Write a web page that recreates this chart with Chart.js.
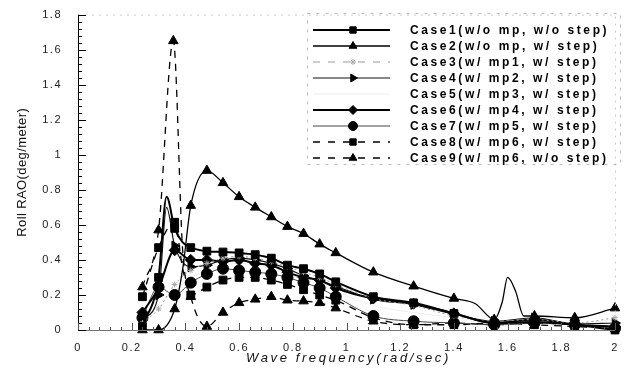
<!DOCTYPE html>
<html>
<head>
<meta charset="utf-8">
<script src="https://cdn.jsdelivr.net/npm/chart.js@4.4.1/dist/chart.umd.min.js"></script>
<style>
  html, body { margin: 0; padding: 0; background: #fff; }
  #wrap { width: 628px; height: 369px; }
</style>
</head>
<body>
<div id="wrap"><canvas id="rao-chart"></canvas></div>
<script>
// Roll RAO vs wave frequency, nine cases
const caseLabels = [
    'Case1(w/o mp, w/o step)',
    'Case2(w/o mp, w/ step)',
    'Case3(w/ mp1, w/ step)',
    'Case4(w/ mp2, w/ step)',
    'Case5(w/ mp3, w/ step)',
    'Case6(w/ mp4, w/ step)',
    'Case7(w/ mp5, w/ step)',
    'Case8(w/ mp6, w/ step)',
    'Case9(w/ mp6, w/o step)'
];

// [frequency (rad/sec), roll RAO (deg/meter)]
const case1 = [[0.24,0.02],[0.30,0.30],[0.33,0.76],[0.36,0.58],[0.39,0.50],[0.42,0.47],[0.48,0.45],[0.54,0.445],[0.60,0.44],[0.66,0.43],[0.72,0.41],[0.78,0.37],[0.84,0.35],[0.90,0.32],[0.96,0.275],[1.10,0.19],[1.25,0.155],[1.40,0.095],[1.55,0.04],[1.70,0.045],[1.85,0.03],[2.00,0.0]];
const case2 = [[0.24,0.0],[0.30,0.0],[0.36,0.12],[0.39,0.35],[0.42,0.71],[0.48,0.91],[0.54,0.84],[0.60,0.76],[0.66,0.70],[0.72,0.645],[0.78,0.59],[0.84,0.55],[0.90,0.49],[0.96,0.44],[1.10,0.33],[1.25,0.25],[1.40,0.18],[1.48,0.15],[1.55,0.06],[1.58,0.16],[1.60,0.30],[1.63,0.22],[1.66,0.08],[1.70,0.08],[1.85,0.07],[2.00,0.125]];
const case3 = [[0.24,0.04],[0.30,0.12],[0.36,0.26],[0.42,0.34],[0.48,0.38],[0.54,0.41],[0.60,0.42],[0.66,0.41],[0.72,0.39],[0.78,0.36],[0.84,0.33],[0.90,0.30],[0.96,0.26],[1.10,0.18],[1.25,0.14],[1.40,0.08],[1.55,0.05],[1.70,0.06],[1.85,0.04],[2.00,0.07]];
const case4 = [[0.24,0.06],[0.30,0.20],[0.33,0.70],[0.36,0.48],[0.42,0.36],[0.48,0.37],[0.54,0.40],[0.60,0.41],[0.66,0.40],[0.72,0.38],[0.78,0.35],[0.84,0.31],[0.90,0.28],[0.96,0.25],[1.10,0.175],[1.25,0.145],[1.40,0.09],[1.55,0.05],[1.70,0.07],[1.85,0.035],[2.00,0.04]];
const case5 = [[0.24,0.03],[0.30,0.15],[0.36,0.22],[0.42,0.30],[0.48,0.34],[0.54,0.37],[0.60,0.38],[0.66,0.37],[0.72,0.35],[0.78,0.32],[0.84,0.29],[0.90,0.26],[0.96,0.22],[1.10,0.14],[1.25,0.10],[1.40,0.07],[1.55,0.05],[1.70,0.05],[1.85,0.04],[2.00,0.06]];
const case6 = [[0.24,0.10],[0.30,0.24],[0.36,0.455],[0.42,0.40],[0.48,0.40],[0.54,0.39],[0.60,0.40],[0.66,0.38],[0.72,0.37],[0.78,0.33],[0.84,0.30],[0.90,0.285],[0.96,0.24],[1.10,0.18],[1.25,0.15],[1.40,0.095],[1.55,0.04],[1.70,0.06],[1.85,0.03],[2.00,0.02]];
const case7 = [[0.24,0.07],[0.30,0.245],[0.36,0.20],[0.42,0.27],[0.48,0.32],[0.54,0.35],[0.60,0.34],[0.66,0.33],[0.72,0.32],[0.78,0.30],[0.84,0.27],[0.90,0.24],[0.96,0.19],[1.10,0.08],[1.25,0.05],[1.40,0.04],[1.55,0.03],[1.70,0.04],[1.85,0.03],[2.00,0.01]];
const case8 = [[0.24,0.19],[0.30,0.47],[0.36,0.615],[0.39,0.35],[0.42,0.20],[0.48,0.245],[0.54,0.285],[0.60,0.30],[0.66,0.30],[0.72,0.285],[0.78,0.26],[0.84,0.23],[0.90,0.20],[0.96,0.17],[1.10,0.07],[1.25,0.03],[1.40,0.03],[1.55,0.04],[1.70,0.03],[1.85,0.02],[2.00,0.01]];
const case9 = [[0.24,0.245],[0.30,0.57],[0.355,1.65],[0.39,0.45],[0.42,0.19],[0.48,0.02],[0.54,0.10],[0.60,0.155],[0.66,0.175],[0.72,0.19],[0.78,0.17],[0.84,0.165],[0.90,0.155],[0.96,0.125],[1.10,0.05],[1.25,0.03],[1.40,0.04],[1.55,0.03],[1.70,0.04],[1.85,0.03],[2.00,0.02]];

// curve-shaping points that carry no symbol
const unmarkedFreqs = [0.33, 0.39, 1.48, 1.58, 1.60, 1.63, 1.66];

const xTicks = [0, 0.2, 0.4, 0.6, 0.8, 1, 1.2, 1.4, 1.6, 1.8, 2];
const yTicks = [0, 0.2, 0.4, 0.6, 0.8, 1, 1.2, 1.4, 1.6, 1.8];

const FONT = '"Liberation Sans", Arial, sans-serif';

const styles = [
    { color: '#000', width: 2,   dash: [],     point: 'rect',     rot: 0 },
    { color: '#000', width: 1.3, dash: [],     point: 'triangle', rot: 0 },
    { color: '#999', width: 1,   dash: [2, 3], point: 'star',     rot: 0, pointColor: '#aaa', radius: 3 },
    { color: '#111', width: 1.2, dash: [],     point: 'triangle', rot: 90 },
    { color: 'rgba(0,0,0,0.07)', width: 1, dash: [], point: false, rot: 0 },
    { color: '#000', width: 2,   dash: [],     point: 'rectRot',  rot: 0 },
    { color: '#444', width: 1,   dash: [],     point: 'circle',   rot: 0 },
    { color: '#000', width: 1.3, dash: [7, 6], point: 'rect',     rot: 0 },
    { color: '#000', width: 1.3, dash: [7, 6], point: 'triangle', rot: 0 }
];

const series = [case1, case2, case3, case4, case5, case6, case7, case8, case9];

const datasets = series.map((pts, i) => {
    const s = styles[i];
    return {
        label: caseLabels[i],
        data: pts.map(p => ({ x: p[0], y: p[1] })),
        borderColor: s.color,
        borderWidth: s.width,
        borderDash: s.dash,
        cubicInterpolationMode: 'monotone',
        pointStyle: s.point,
        pointRotation: s.rot,
        pointBackgroundColor: s.pointColor || '#000',
        pointBorderColor: s.pointColor || '#000',
        pointBorderWidth: 1,
        pointRadius: ctx => (!s.point || unmarkedFreqs.includes(ctx.raw.x)) ? 0 : (s.radius || 5.5),
        pointHoverRadius: 0,
        clip: 8
    };
});

function fmtTick(v) {
    const r = Math.round(v * 10) / 10;
    return Number.isInteger(r) ? String(r) : r.toFixed(1);
}

// frame, inward ticks, axis titles and the boxed legend
const framePlugin = {
    id: 'framePlugin',
    beforeDraw(chart) {
        chart.ctx.letterSpacing = '1.5px';
    },
    afterDraw(chart) {
        const ctx = chart.ctx;
        const { left, right, top, bottom } = chart.chartArea;
        const xs = chart.scales.x, ys = chart.scales.y;
        ctx.save();
        ctx.letterSpacing = '0px';

        // frame
        ctx.strokeStyle = '#000';
        ctx.lineWidth = 1;
        ctx.beginPath();
        ctx.moveTo(left + 0.5, top);
        ctx.lineTo(left + 0.5, bottom);
        ctx.stroke();
        ctx.strokeStyle = '#777';
        ctx.beginPath();
        ctx.moveTo(left, bottom + 0.5);
        ctx.lineTo(right, bottom + 0.5);
        ctx.stroke();
        ctx.strokeStyle = '#ccc';
        ctx.setLineDash([2, 5]);
        ctx.beginPath();
        ctx.moveTo(left, top + 0.5);
        ctx.lineTo(right + 0.5, top + 0.5);
        ctx.lineTo(right + 0.5, bottom);
        ctx.stroke();
        ctx.setLineDash([]);

        // inward ticks
        ctx.strokeStyle = '#000';
        for (let i = 0; i <= 45; i++) {
            const y = Math.round(ys.getPixelForValue(i * 0.04)) + 0.5;
            const len = i % 5 === 0 ? 8 : 4;
            ctx.beginPath();
            ctx.moveTo(left, y);
            ctx.lineTo(left + len, y);
            ctx.stroke();
        }
        ctx.strokeStyle = '#555';
        for (let i = 0; i <= 50; i++) {
            const x = Math.round(xs.getPixelForValue(i * 0.04)) + 0.5;
            const len = i % 5 === 0 ? 7 : 3;
            ctx.beginPath();
            ctx.moveTo(x, bottom);
            ctx.lineTo(x, bottom - len);
            ctx.stroke();
        }

        // axis titles
        ctx.fillStyle = '#111';
        ctx.textBaseline = 'middle';
        ctx.textAlign = 'center';
        ctx.font = '13px ' + FONT;
        ctx.letterSpacing = '0.4px';
        ctx.save();
        ctx.translate(22, (top + bottom) / 2);
        ctx.rotate(-Math.PI / 2);
        ctx.fillText('Roll RAO(deg/meter)', 0, 0);
        ctx.restore();
        ctx.font = 'italic 13px ' + FONT;
        ctx.letterSpacing = '2.6px';
        ctx.fillText('Wave frequency(rad/sec)', (left + right) / 2 + 2, 358);

        // legend
        const box = { x: 307, y: 13, w: 313, h: 151 };
        ctx.letterSpacing = '0px';
        ctx.strokeStyle = '#bbb';
        ctx.setLineDash([3, 6]);
        ctx.strokeRect(box.x + 0.5, box.y + 0.5, box.w, box.h);
        ctx.setLineDash([]);
        chart.data.datasets.forEach((ds, i) => {
            const s = styles[i];
            const y = 30 + i * 16;
            ctx.strokeStyle = s.color;
            ctx.lineWidth = s.width;
            ctx.setLineDash(s.dash.length ? [7, 8] : []);
            ctx.beginPath();
            ctx.moveTo(313, y);
            ctx.lineTo(390, y);
            ctx.stroke();
            ctx.setLineDash([]);
            if (s.point) {
                ctx.fillStyle = s.pointColor || '#000';
                ctx.strokeStyle = s.pointColor || '#000';
                ctx.lineWidth = 1;
                Chart.helpers.drawPoint(ctx, {
                    pointStyle: s.point,
                    rotation: s.rot,
                    radius: s.radius || 4.5,
                    borderWidth: 1
                }, 353, y);
            }
            ctx.fillStyle = '#000';
            ctx.font = 'bold 12px ' + FONT;
            ctx.letterSpacing = '2.6px';
            ctx.textAlign = 'left';
            ctx.fillText(ds.label, 410, y + 1);
            ctx.letterSpacing = '0px';
        });
        ctx.restore();
    }
};

new Chart(document.getElementById('rao-chart'), {
    type: 'line',
    data: { datasets },
    plugins: [framePlugin],
    options: {
        responsive: true,
        maintainAspectRatio: false,
        animation: false,
        layout: { padding: { top: 14, right: 13, left: 0, bottom: 0 } },
        plugins: {
            legend: { display: false },
            tooltip: { enabled: false }
        },
        scales: {
            x: {
                type: 'linear',
                min: 0,
                max: 2,
                afterBuildTicks: scale => { scale.ticks = xTicks.map(v => ({ value: v })); },
                afterFit: scale => { scale.height = 39; },
                grid: { display: false },
                border: { display: false },
                ticks: {
                    autoSkip: false,
                    maxRotation: 0,
                    padding: 3,
                    color: '#222',
                    font: { family: FONT, size: 11 },
                    callback: fmtTick
                }
            },
            y: {
                min: 0,
                max: 1.8,
                afterBuildTicks: scale => { scale.ticks = yTicks.map(v => ({ value: v })); },
                afterFit: scale => { scale.width = 78; },
                grid: { display: false },
                border: { display: false },
                ticks: {
                    padding: 8,
                    color: '#222',
                    font: { family: FONT, size: 11 },
                    callback: fmtTick
                }
            }
        }
    }
});
</script>
</body>
</html>
